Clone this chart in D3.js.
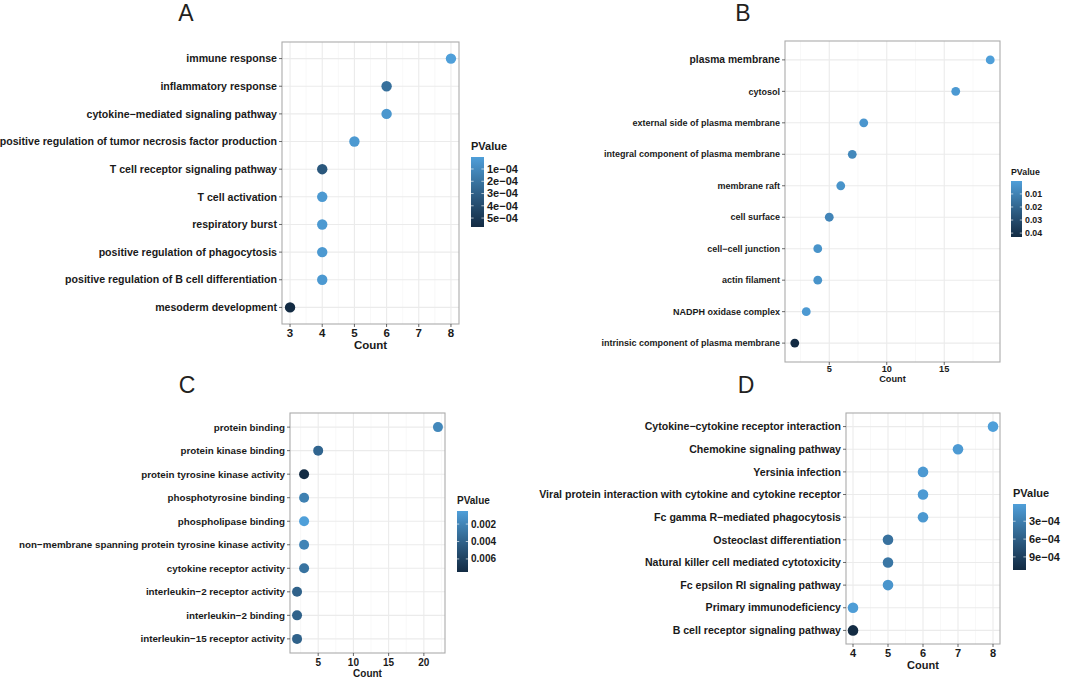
<!DOCTYPE html>
<html>
<head>
<meta charset="utf-8">
<script src="https://cdn.jsdelivr.net/npm/d3@7"></script>
<style>
  body { margin: 0; background: #fff; }
  svg { display: block; font-family: "Liberation Sans", Arial, sans-serif; }
</style>
</head>
<body>
<svg id="fig" width="1065" height="681"></svg>
<script>
// ---- data ----
// A: GO biological process
var termsA = ["immune response", "inflammatory response", "cytokine\u2212mediated signaling pathway",
  "positive regulation of tumor necrosis factor production", "T cell receptor signaling pathway",
  "T cell activation", "respiratory burst", "positive regulation of phagocytosis",
  "positive regulation of B cell differentiation", "mesoderm development"];
var countsA = [8, 6, 6, 5, 4, 4, 4, 4, 4, 3];
var pvalA = [2e-6, 2.2e-4, 4e-5, 3e-5, 3.4e-4, 3e-5, 3e-5, 3e-5, 3e-5, 5.73e-4];
var xTicksA = [3, 4, 5, 6, 7, 8];
var legTicksA = [1e-4, 2e-4, 3e-4, 4e-4, 5e-4];
var legLabelsA = ["1e\u221204", "2e\u221204", "3e\u221204", "4e\u221204", "5e\u221204"];

// B: GO cellular component
var termsB = ["plasma membrane", "cytosol", "external side of plasma membrane",
  "integral component of plasma membrane", "membrane raft", "cell surface",
  "cell\u2212cell junction", "actin filament", "NADPH oxidase complex",
  "intrinsic component of plasma membrane"];
var countsB = [19, 16, 8, 7, 6, 5, 4, 4, 3, 2];
var pvalB = [0.0001, 0.002, 0.003, 0.008, 0.004, 0.009, 0.004, 0.004, 0.002, 0.043];
var xTicksB = [5, 10, 15];
var legTicksB = [0.01, 0.02, 0.03, 0.04];
var legLabelsB = ["0.01", "0.02", "0.03", "0.04"];

// C: GO molecular function
var termsC = ["protein binding", "protein kinase binding", "protein tyrosine kinase activity",
  "phosphotyrosine binding", "phospholipase binding",
  "non\u2212membrane spanning protein tyrosine kinase activity", "cytokine receptor activity",
  "interleukin\u22122 receptor activity", "interleukin\u22122 binding", "interleukin\u221215 receptor activity"];
var countsC = [22, 5, 3, 3, 3, 3, 3, 2, 2, 2];
var pvalC = [0.0018, 0.0038, 0.0075, 0.0022, 0.0005, 0.0020, 0.0030, 0.0040, 0.0040, 0.0040];
var xTicksC = [5, 10, 15, 20];
var legTicksC = [0.002, 0.004, 0.006];
var legLabelsC = ["0.002", "0.004", "0.006"];

// D: KEGG pathways
var termsD = ["Cytokine\u2212cytokine receptor interaction", "Chemokine signaling pathway",
  "Yersinia infection", "Viral protein interaction with cytokine and cytokine receptor",
  "Fc gamma R\u2212mediated phagocytosis", "Osteoclast differentiation",
  "Natural killer cell mediated cytotoxicity", "Fc epsilon RI signaling pathway",
  "Primary immunodeficiency", "B cell receptor signaling pathway"];
var countsD = [8, 7, 6, 6, 6, 5, 5, 5, 4, 4];
var pvalD = [1e-5, 5e-5, 6e-5, 5e-5, 7e-5, 4.2e-4, 3.8e-4, 1e-4, 3e-5, 1.12e-3];
var xTicksD = [4, 5, 6, 7, 8];
var legTicksD = [3e-4, 6e-4, 9e-4];
var legLabelsD = ["3e\u221204", "6e\u221204", "9e\u221204"];

var lowCol = "#4f9fd9", highCol = "#132B43";
var svg = d3.select("#fig");
var defs = svg.append("defs");

function drawPanel(id, terms, counts, pvals, xTicks, legTicks, legLabels, L) {
  var g = svg.append("g");
  var b = L.box;

  var ext = d3.extent(counts), pad = (ext[1] - ext[0]) * 0.05;
  var x = d3.scaleLinear().domain([ext[0] - pad, ext[1] + pad]).range([b.x, b.x + b.w]);
  var y = d3.scalePoint().domain(terms).range([b.y, b.y + b.h]).padding(0.6);
  var pext = d3.extent(pvals);
  var col = d3.scaleLinear().domain(pext).range([lowCol, highCol]).interpolate(d3.interpolateLab);

  // minor grid (midpoints of major ticks, inside domain)
  var step = xTicks[1] - xTicks[0], dom = x.domain(), minor = [];
  for (var v = xTicks[0] - step / 2; v <= dom[1]; v += step) if (v >= dom[0]) minor.push(v);
  g.selectAll(".minor").data(minor).enter().append("line")
    .attr("x1", d => x(d)).attr("x2", d => x(d)).attr("y1", b.y).attr("y2", b.y + b.h)
    .attr("stroke", "#f3f3f3").attr("stroke-width", 0.6);
  g.selectAll(".vmaj").data(xTicks).enter().append("line")
    .attr("x1", d => x(d)).attr("x2", d => x(d)).attr("y1", b.y).attr("y2", b.y + b.h)
    .attr("stroke", "#ebebeb").attr("stroke-width", 1.1);
  g.selectAll(".hmaj").data(terms).enter().append("line")
    .attr("x1", b.x).attr("x2", b.x + b.w).attr("y1", d => y(d)).attr("y2", d => y(d))
    .attr("stroke", "#ebebeb").attr("stroke-width", 1.1);

  // points
  g.selectAll("circle").data(terms).enter().append("circle")
    .attr("cx", (d, i) => x(counts[i])).attr("cy", d => y(d))
    .attr("r", L.r).attr("fill", (d, i) => col(pvals[i]));

  // border
  g.append("rect").attr("x", b.x).attr("y", b.y).attr("width", b.w).attr("height", b.h)
    .attr("fill", "none").attr("stroke", "#ababab").attr("stroke-width", 1.1);

  // y axis
  g.selectAll(".ytick").data(terms).enter().append("line")
    .attr("x1", b.x - 3).attr("x2", b.x).attr("y1", d => y(d)).attr("y2", d => y(d))
    .attr("stroke", "#444").attr("stroke-width", 0.8);
  g.selectAll(".ylab").data(terms).enter().append("text")
    .attr("x", b.x - 5).attr("y", d => y(d)).attr("dy", "0.35em")
    .attr("text-anchor", "end").attr("font-weight", "bold").attr("fill", "#1a1a1a")
    .attr("font-size", (d, i) => (i === 0 && L.firstFs) ? L.firstFs : L.fs)
    .text(d => d);

  // x axis
  g.selectAll(".xtick").data(xTicks).enter().append("line")
    .attr("x1", d => x(d)).attr("x2", d => x(d)).attr("y1", b.y + b.h).attr("y2", b.y + b.h + 3)
    .attr("stroke", "#444").attr("stroke-width", 0.8);
  g.selectAll(".xlab").data(xTicks).enter().append("text")
    .attr("x", d => x(d)).attr("y", L.tickY).attr("dy", "0.35em")
    .attr("text-anchor", "middle").attr("font-weight", "bold").attr("fill", "#1a1a1a")
    .attr("font-size", L.tickFs).text(d => d);
  g.append("text").attr("x", b.x + b.w / 2).attr("y", L.titleY).attr("dy", "0.35em")
    .attr("text-anchor", "middle").attr("font-weight", "bold").attr("fill", "#1a1a1a")
    .attr("font-size", L.titleFs).text("Count");

  // colour bar legend
  var lg = L.leg;
  var grad = defs.append("linearGradient").attr("id", "grad" + id)
    .attr("x1", 0).attr("x2", 0).attr("y1", 0).attr("y2", 1);
  d3.range(0, 1.0001, 0.1).forEach(function (t) {
    grad.append("stop").attr("offset", t)
      .attr("stop-color", col(pext[0] + t * (pext[1] - pext[0])));
  });
  var ly = d3.scaleLinear().domain(pext).range([lg.y, lg.y + lg.h]);
  g.append("text").attr("x", lg.x).attr("y", lg.titleY).attr("dy", "0.35em")
    .attr("font-weight", "bold").attr("font-size", lg.titleFs).attr("fill", "#1a1a1a").text("PValue");
  g.append("rect").attr("x", lg.x).attr("y", lg.y).attr("width", lg.w).attr("height", lg.h)
    .attr("fill", "url(#grad" + id + ")");
  legTicks.forEach(function (t, i) {
    var yy = ly(t);
    [[lg.x, lg.x + lg.w / 5], [lg.x + lg.w * 4 / 5, lg.x + lg.w]].forEach(function (s) {
      g.append("line").attr("x1", s[0]).attr("x2", s[1]).attr("y1", yy).attr("y2", yy)
        .attr("stroke", "#fff").attr("stroke-opacity", 0.8).attr("stroke-width", 0.8);
    });
    g.append("text").attr("x", lg.x + lg.w + 3).attr("y", yy).attr("dy", "0.35em")
      .attr("font-weight", "bold").attr("font-size", lg.fs).attr("fill", "#1a1a1a").text(legLabels[i]);
  });

  // panel letter
  svg.append("text").attr("x", L.letter[0]).attr("y", L.letter[1])
    .attr("font-size", 23).attr("fill", "#231f20").attr("text-anchor", "middle").text(id);
}

drawPanel("A", termsA, countsA, pvalA, xTicksA, legTicksA, legLabelsA, {
  box: {x: 282, y: 42, w: 177, h: 282}, r: 5.2, fs: 10.6, tickFs: 11.5, tickY: 333, titleFs: 11.5, titleY: 345,
  leg: {x: 471, y: 157, w: 13, h: 70, titleY: 146, titleFs: 11, fs: 11}, letter: [186, 21]
});
drawPanel("B", termsB, countsB, pvalB, xTicksB, legTicksB, legLabelsB, {
  box: {x: 785, y: 41, w: 215, h: 321}, r: 4.4, fs: 9.0, firstFs: 10.3, tickFs: 9.2, tickY: 369, titleFs: 9.2, titleY: 379,
  leg: {x: 1011, y: 181, w: 11, h: 56, titleY: 172, titleFs: 8.8, fs: 8.8}, letter: [743, 21]
});
drawPanel("C", termsC, countsC, pvalC, xTicksC, legTicksC, legLabelsC, {
  box: {x: 290, y: 413, w: 155, h: 240}, r: 5, fs: 9.8, tickFs: 10, tickY: 662, titleFs: 10, titleY: 673,
  leg: {x: 457, y: 511, w: 11, h: 61, titleY: 500, titleFs: 10, fs: 10}, letter: [187, 393]
});
drawPanel("D", termsD, countsD, pvalD, xTicksD, legTicksD, legLabelsD, {
  box: {x: 846, y: 413, w: 154, h: 231}, r: 5.3, fs: 10.6, tickFs: 11, tickY: 653, titleFs: 11, titleY: 665,
  leg: {x: 1013, y: 504, w: 13, h: 66, titleY: 493, titleFs: 11, fs: 11}, letter: [746, 393]
});
</script>
</body>
</html>
